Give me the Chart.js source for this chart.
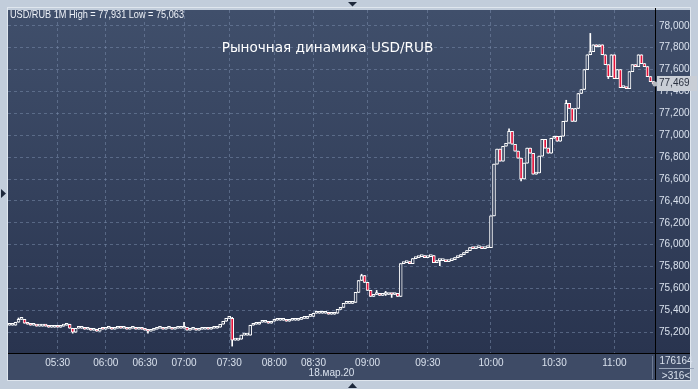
<!DOCTYPE html>
<html>
<head>
<meta charset="utf-8">
<script src="https://cdn.jsdelivr.net/npm/chart.js@4.4.0/dist/chart.umd.min.js"></script>
<style>
  html, body { margin: 0; padding: 0; background: #c2cddb; }
  #wrap { width: 698px; height: 389px; position: relative; }
</style>
</head>
<body>
<div id="wrap"><canvas id="chart_usd_rub"></canvas></div>
<script>
// close price of every 1M bar (open = previous close)
const firstOpen = 75264;
const closes = [
  75264, 75264, 75291, 75318, 75318, 75282, 75273, 75264,
  75264, 75255, 75255, 75264, 75255,
  75245, 75245, 75255, 75245, 75255,
  75264, 75273, 75236, 75200, 75236,
  75236, 75236, 75227, 75236, 75218, 75227, 75209,
  75236, 75227, 75236, 75236, 75227, 75236, 75245, 75236, 75236, 75227, 75236, 75236, 75227, 75236,
  75227, 75218, 75209, 75218,
  75227, 75236, 75236, 75227, 75236, 75236, 75227, 75236, 75236, 75236,
  75245, 75218,
  75227, 75227, 75218, 75227, 75227, 75236, 75227, 75236, 75236, 75245,
  75273, 75300, 75327, 75327, 75127, 75127, 75136,
  75173, 75173, 75173, 75264, 75273, 75273,
  75291, 75291, 75291, 75282,
  75300, 75309, 75309, 75309, 75309, 75300, 75309, 75309, 75309,
  75318, 75327, 75327, 75345, 75345,
  75373, 75373, 75373, 75373, 75373, 75364, 75364, 75373,
  75409, 75427, 75464, 75464, 75464, 75473,
  75564, 75673, 75718, 75655, 75582, 75527,
  75545, 75555, 75536, 75545, 75545, 75555, 75545, 75555, 75527,
  75827, 75836, 75836, 75827,
  75873, 75882, 75891, 75900, 75882, 75891, 75900, 75836,
  75855, 75855, 75855, 75845, 75855, 75864,
  75882, 75891, 75909, 75927, 75945,
  75973, 75964, 75973, 75973, 75964, 75973, 75973,
  76264, 76736, 76873, 76764, 76900, 76927, 77036, 76918, 76855, 76791,
  76600, 76745, 76882, 76836, 76645, 76655, 76809, 76964, 76882, 76836,
  76973, 76991, 76945, 76991, 77127, 77291, 77245, 77127, 77245, 77382,
  77418, 77600, 77736, 77764, 77827, 77809, 77827, 77736, 77645, 77536,
  77736, 77518, 77600, 77436, 77436, 77427, 77582, 77645, 77627, 77736,
  77655, 77627, 77536, 77491, 77469
];

// bars with visible shadows
const wickIndex = [3, 21, 46, 58, 74, 117, 122, 125, 127, 133, 143, 166, 170, 185, 193, 199];
const wickHigh = [75330, 75236, 75218, 75291, 75336, 75730, 75582, 75573, 75555, 75845, 75855, 77060, 76745, 77320, 77931, 77582];
const wickLow = [75318, 75191, 75191, 75236, 75073, 75718, 75545, 75536, 75518, 75827, 75809, 77036, 76582, 77291, 77764, 77518];

const tickIndex = [16, 32, 45, 58, 73, 88, 101, 119, 139, 160, 181, 201];
const tickText = ['05:30', '06:00', '06:30', '07:00', '07:30', '08:00', '08:30', '09:00', '09:30', '10:00', '10:30', '11:00'];
const yTicks = [75200, 75400, 75600, 75800, 76000, 76200, 76400, 76600, 76800, 77000, 77200, 77400, 77600, 77800, 78000];

const headerText = 'USD/RUB 1M High = 77,931 Low = 75,063';
const captionText = 'Рыночная динамика USD/RUB';
const dateText = '18.мар.20';
const lastPrice = 77469;
const counterTop = '176164';
const counterBottom = '>316<';

const fontMain = "'Liberation Sans', Arial, sans-serif";
const candleRed = '#e3123a';

function fmt(v) {
  return String(v).replace(/\B(?=(\d{3})+(?!\d))/g, ',');
}

let opens = closes.map((c, i) => i == 0 ? firstOpen : closes[i - 1]);
let bodies = closes.map((c, i) => [opens[i], c]);
let highs = closes.map((c, i) => Math.max(opens[i], c));
let lows = closes.map((c, i) => Math.min(opens[i], c));
for (var k = 0; k < wickIndex.length; k++) {
  highs[wickIndex[k]] = Math.max(highs[wickIndex[k]], wickHigh[k]);
  lows[wickIndex[k]] = Math.min(lows[wickIndex[k]], wickLow[k]);
}
let wicks = closes.map((c, i) => [lows[i], highs[i]]);

let labels = closes.map(() => '');
tickIndex.forEach((idx, k) => { labels[idx] = tickText[k]; });

function panelGradient(ctx, top, bottom) {
  let g = ctx.createLinearGradient(0, top, 0, bottom);
  g.addColorStop(0, '#404f6b');
  g.addColorStop(1, '#29344f');
  return g;
}

const framePlugin = {
  id: 'frame',
  beforeDraw(chart) {
    const ctx = chart.ctx;
    const a = chart.chartArea;
    ctx.save();
    ctx.fillStyle = '#c2cddb';
    ctx.fillRect(0, 0, chart.width, chart.height);

    ctx.fillStyle = panelGradient(ctx, a.top, a.bottom);
    ctx.fillRect(8, a.top, 682, a.bottom - a.top);

    ctx.fillStyle = '#3e4b66';
    ctx.fillRect(8, a.bottom, 682, 27);

    ctx.strokeStyle = '#dfe6ee';
    ctx.lineWidth = 1;
    ctx.strokeRect(7.5, 7.5, 683, a.bottom + 27 - 7);

    // markers round the frame
    ctx.fillStyle = '#1d283b';
    ctx.beginPath();
    ctx.moveTo(348, 2); ctx.lineTo(357, 2); ctx.lineTo(352.5, 6.5); ctx.closePath(); ctx.fill();
    ctx.beginPath();
    ctx.moveTo(348, 388); ctx.lineTo(357, 388); ctx.lineTo(352.5, 383); ctx.closePath(); ctx.fill();
    ctx.beginPath();
    ctx.moveTo(1, 189); ctx.lineTo(1, 198); ctx.lineTo(6, 193.5); ctx.closePath(); ctx.fill();
    ctx.restore();
  },
  afterDraw(chart) {
    const ctx = chart.ctx;
    const a = chart.chartArea;
    ctx.save();

    ctx.strokeStyle = '#000000';
    ctx.lineWidth = 1;
    ctx.beginPath();
    ctx.moveTo(8, a.bottom + 0.5); ctx.lineTo(690, a.bottom + 0.5);
    ctx.moveTo(a.right + 0.5, 8); ctx.lineTo(a.right + 0.5, a.bottom + 27);
    ctx.stroke();
    ctx.strokeStyle = '#6d7a92';
    ctx.beginPath();
    ctx.moveTo(a.right - 2.5, a.bottom + 3); ctx.lineTo(a.right - 2.5, a.bottom + 26);
    ctx.stroke();

    ctx.fillStyle = '#eef2f8';
    ctx.font = '10.5px ' + fontMain;
    ctx.textBaseline = 'middle';
    ctx.textAlign = 'left';
    ctx.fillText(headerText, 10, 15, 174);

    ctx.font = "13.6px 'DejaVu Sans', Verdana, sans-serif";
    ctx.textAlign = 'center';
    ctx.fillStyle = '#ffffff';
    ctx.fillText(captionText, 327.5, 48);

    ctx.font = '10px ' + fontMain;
    ctx.fillStyle = '#d9e1ed';
    ctx.fillText(dateText, (a.left + a.right) / 2, a.bottom + 20);

    // last price label
    const yLast = chart.scales.y.getPixelForValue(lastPrice);
    ctx.fillStyle = '#c9ced6';
    ctx.fillRect(657, Math.round(yLast) - 8, 40, 15);
    ctx.fillStyle = '#b4b8bf';
    ctx.beginPath();
    ctx.arc(a.right, yLast, 2.5, 0, Math.PI * 2);
    ctx.fill();
    ctx.fillStyle = '#2a3140';
    ctx.textAlign = 'left';
    ctx.fillText(fmt(lastPrice), 659, Math.round(yLast) - 0.5);

    // counters
    ctx.fillStyle = '#d9e1ed';
    ctx.textAlign = 'center';
    ctx.fillText(counterTop, 676, a.bottom + 8, 33);
    ctx.fillText(counterBottom, 676, a.bottom + 23);
    ctx.strokeStyle = '#9aa6ba';
    ctx.beginPath();
    ctx.moveTo(659, a.bottom + 15.5); ctx.lineTo(694, a.bottom + 15.5);
    ctx.stroke();
    ctx.restore();
  }
};

new Chart(document.getElementById('chart_usd_rub'), {
  type: 'bar',
  data: {
    labels: labels,
    datasets: [{
        label: 'body',
        data: bodies,
        grouped: false,
        barThickness: 3,
        minBarLength: 2,
        borderWidth: 1,
        borderSkipped: false,
        borderColor: '#ffffff',
        backgroundColor: function(context) {
          let i = context.dataIndex;
          if (closes[i] < opens[i]) {
            return candleRed;
          }
          let a = context.chart.chartArea;
          if (!a) {
            return '#34405b';
          }
          return panelGradient(context.chart.ctx, a.top, a.bottom);
        }
      },{
        label: 'wick',
        data: wicks,
        grouped: false,
        barThickness: 1,
        borderWidth: 0,
        backgroundColor: '#ffffff'
      }]
  },
  options: {
    responsive: true,
    maintainAspectRatio: false,
    animation: false,
    layout: { padding: { left: 8, right: 8, top: 8, bottom: 9 } },
    plugins: {
      legend: { display: false },
      tooltip: { enabled: false }
    },
    scales: {
      x: {
        offset: true,
        grid: { offset: false, color: 'rgba(120, 138, 170, 0.55)', drawTicks: false },
        border: { display: false, dash: [3, 3] },
        ticks: {
          autoSkip: false,
          maxRotation: 0,
          padding: 4,
          color: '#d9e1ed',
          font: { family: fontMain, size: 10 }
        },
        afterBuildTicks: function(scale) {
          scale.ticks = tickIndex.map(v => ({ value: v }));
        },
        afterFit: function(scale) {
          scale.height = 27;
        }
      },
      y: {
        position: 'right',
        min: 75010,
        max: 78145,
        grid: { color: 'rgba(120, 138, 170, 0.55)', drawTicks: false },
        border: { display: false, dash: [3, 3] },
        ticks: {
          padding: 4,
          color: '#d9e1ed',
          font: { family: fontMain, size: 10 },
          callback: function(v) { return fmt(v); }
        },
        afterBuildTicks: function(scale) {
          scale.ticks = yTicks.map(v => ({ value: v }));
        },
        afterFit: function(scale) {
          scale.width = 35;
        }
      }
    }
  },
  plugins: [framePlugin]
});
</script>
</body>
</html>
